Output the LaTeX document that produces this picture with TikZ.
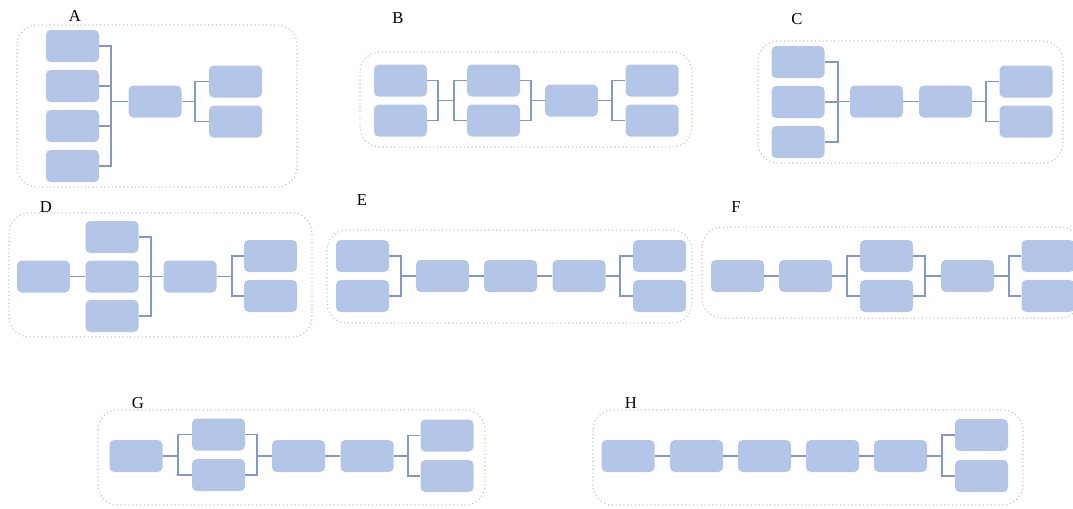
\documentclass[tikz,border=0pt]{standalone}
\usepackage{fontspec}
\setmainfont{Liberation Serif}
\definecolor{boxfill}{HTML}{B4C6E7}
\definecolor{wirecol}{HTML}{8596C9}
\definecolor{framecol}{HTML}{BFC8DC}
\begin{document}
\begin{tikzpicture}[x=0.75pt,y=-0.75pt,
  blk/.style={draw=none,fill=boxfill,rounded corners=3.5pt,minimum width=39.75pt,minimum height=24pt,inner sep=0pt},
  wire/.style={draw=wirecol,line width=0.9pt},
  panel/.style={draw=framecol,line width=0.9pt,dotted,rounded corners=15pt},
  tag/.style={font=\fontsize{12.5}{14}\selectfont,inner sep=0pt}]
\useasboundingbox (0,0) rectangle (1073,508);

% ---------- A ----------
\draw[panel] (17,25) rectangle (297,187);
\node[tag] (lA) at (75,16) {A};
\node[blk] (a1) at (72.5,46) {};
\node[blk] (a2) at (72.5,86) {};
\node[blk] (a3) at (72.5,126) {};
\node[blk] (a4) at (72.5,166) {};
\node[blk] (am) at (155,101.5) {};
\node[blk] (a5) at (235.5,81.5) {};
\node[blk] (a6) at (235.5,121.5) {};
\coordinate (aj1) at (111,101.5);
\coordinate (aj2) at (195,101.5);
\foreach \n in {a1,a2,a3,a4} \draw[wire] (\n.east) -| (aj1);
\draw[wire] (aj1) -- (am.west);
\draw[wire] (am.east) -- (aj2);
\draw[wire] (aj2) |- (a5.west);
\draw[wire] (aj2) |- (a6.west);

% ---------- B ----------
\draw[panel] (360,52) rectangle (692,147);
\node[tag] (lB) at (398,18) {B};
\node[blk] (b1) at (400.5,80.5) {};
\node[blk] (b2) at (400.5,120.5) {};
\node[blk] (b3) at (493.5,80.5) {};
\node[blk] (b4) at (493.5,120.5) {};
\node[blk] (bm) at (571.5,100.5) {};
\node[blk] (b5) at (652,80.5) {};
\node[blk] (b6) at (652,120.5) {};
\coordinate (bj1) at (438,100.5);
\coordinate (bj2) at (454,100.5);
\coordinate (bj3) at (531,100.5);
\coordinate (bj4) at (612,100.5);
\draw[wire] (b1.east) -| (bj1);
\draw[wire] (b2.east) -| (bj1);
\draw[wire] (bj1) -- (bj2);
\draw[wire] (bj2) |- (b3.west);
\draw[wire] (bj2) |- (b4.west);
\draw[wire] (b3.east) -| (bj3);
\draw[wire] (b4.east) -| (bj3);
\draw[wire] (bj3) -- (bm.west);
\draw[wire] (bm.east) -- (bj4);
\draw[wire] (bj4) |- (b5.west);
\draw[wire] (bj4) |- (b6.west);

% ---------- C ----------
\draw[panel] (758,41) rectangle (1063,163);
\node[tag] (lC) at (797,19) {C};
\node[blk] (c1) at (798,62) {};
\node[blk] (c2) at (798,102) {};
\node[blk] (c3) at (798,142) {};
\node[blk] (cm1) at (876.5,101.5) {};
\node[blk] (cm2) at (945.5,101.5) {};
\node[blk] (c4) at (1026,81.5) {};
\node[blk] (c5) at (1026,121.5) {};
\coordinate (cj1) at (838,101.5);
\coordinate (cj2) at (986,101.5);
\foreach \n in {c1,c2,c3} \draw[wire] (\n.east) -| (cj1);
\draw[wire] (cj1) -- (cm1.west);
\draw[wire] (cm1.east) -- (cm2.west);
\draw[wire] (cm2.east) -- (cj2);
\draw[wire] (cj2) |- (c4.west);
\draw[wire] (cj2) |- (c5.west);

% ---------- D ----------
\draw[panel] (9,213) rectangle (312,337);
\node[tag] (lD) at (46,207) {D};
\node[blk] (d0) at (43.5,276.5) {};
\node[blk] (d1) at (112,237) {};
\node[blk] (d2) at (112,276.5) {};
\node[blk] (d3) at (112,316) {};
\node[blk] (dm) at (190,276.5) {};
\node[blk] (d4) at (270.5,256) {};
\node[blk] (d5) at (270.5,296) {};
\coordinate (dj1) at (151,276.5);
\coordinate (dj2) at (232,276.5);
\draw[wire] (d0.east) -- (d2.west);
\foreach \n in {d1,d2,d3} \draw[wire] (\n.east) -| (dj1);
\draw[wire] (dj1) -- (dm.west);
\draw[wire] (dm.east) -- (dj2);
\draw[wire] (dj2) |- (d4.west);
\draw[wire] (dj2) |- (d5.west);

% ---------- E ----------
\draw[panel] (327,230) rectangle (692,323);
\node[tag] (lE) at (362,200) {E};
\node[blk] (e1) at (362.5,256) {};
\node[blk] (e2) at (362.5,296) {};
\node[blk] (e3) at (442.5,276) {};
\node[blk] (e4) at (510.5,276) {};
\node[blk] (e5) at (579,276) {};
\node[blk] (e6) at (659.5,256) {};
\node[blk] (e7) at (659.5,296) {};
\coordinate (ej1) at (401,276);
\coordinate (ej2) at (620,276);
\draw[wire] (e1.east) -| (ej1);
\draw[wire] (e2.east) -| (ej1);
\draw[wire] (ej1) -- (e3.west);
\draw[wire] (e3.east) -- (e4.west);
\draw[wire] (e4.east) -- (e5.west);
\draw[wire] (e5.east) -- (ej2);
\draw[wire] (ej2) |- (e6.west);
\draw[wire] (ej2) |- (e7.west);

% ---------- F ----------
\draw[panel] (702,227) rectangle (1080,318);
\node[tag] (lF) at (736,207) {F};
\node[blk] (f1) at (737.5,276) {};
\node[blk] (f2) at (805.5,276) {};
\node[blk] (f3) at (886.5,256) {};
\node[blk] (f4) at (886.5,296) {};
\node[blk] (f5) at (967.5,276) {};
\node[blk] (f6) at (1048,256) {};
\node[blk] (f7) at (1048,296) {};
\coordinate (fj1) at (847,276);
\coordinate (fj2) at (925,276);
\coordinate (fj3) at (1009,276);
\draw[wire] (f1.east) -- (f2.west);
\draw[wire] (f2.east) -- (fj1);
\draw[wire] (fj1) |- (f3.west);
\draw[wire] (fj1) |- (f4.west);
\draw[wire] (f3.east) -| (fj2);
\draw[wire] (f4.east) -| (fj2);
\draw[wire] (fj2) -- (f5.west);
\draw[wire] (f5.east) -- (fj3);
\draw[wire] (fj3) |- (f6.west);
\draw[wire] (fj3) |- (f7.west);

% ---------- G ----------
\draw[panel] (98,410) rectangle (485,505);
\node[tag] (lG) at (138,403) {G};
\node[blk] (g1) at (136,456) {};
\node[blk] (g2) at (218.5,434.5) {};
\node[blk] (g3) at (218.5,475) {};
\node[blk] (g4) at (298.5,456) {};
\node[blk] (g5) at (367,456) {};
\node[blk] (g6) at (447,435.5) {};
\node[blk] (g7) at (447,476) {};
\coordinate (gj1) at (178,456);
\coordinate (gj2) at (257,456);
\coordinate (gj3) at (408,456);
\draw[wire] (g1.east) -- (gj1);
\draw[wire] (gj1) |- (g2.west);
\draw[wire] (gj1) |- (g3.west);
\draw[wire] (g2.east) -| (gj2);
\draw[wire] (g3.east) -| (gj2);
\draw[wire] (gj2) -- (g4.west);
\draw[wire] (g4.east) -- (g5.west);
\draw[wire] (g5.east) -- (gj3);
\draw[wire] (gj3) |- (g6.west);
\draw[wire] (gj3) |- (g7.west);

% ---------- H ----------
\draw[panel] (593,410) rectangle (1023,505);
\node[tag] (lH) at (631,403) {H};
\node[blk] (h1) at (628,456) {};
\node[blk] (h2) at (696.5,456) {};
\node[blk] (h3) at (764.5,456) {};
\node[blk] (h4) at (832.5,456) {};
\node[blk] (h5) at (900.5,456) {};
\node[blk] (h6) at (981.5,435) {};
\node[blk] (h7) at (981.5,476) {};
\coordinate (hj) at (942,456);
\draw[wire] (h1.east) -- (h2.west);
\draw[wire] (h2.east) -- (h3.west);
\draw[wire] (h3.east) -- (h4.west);
\draw[wire] (h4.east) -- (h5.west);
\draw[wire] (h5.east) -- (hj);
\draw[wire] (hj) |- (h6.west);
\draw[wire] (hj) |- (h7.west);
\end{tikzpicture}
\end{document}
